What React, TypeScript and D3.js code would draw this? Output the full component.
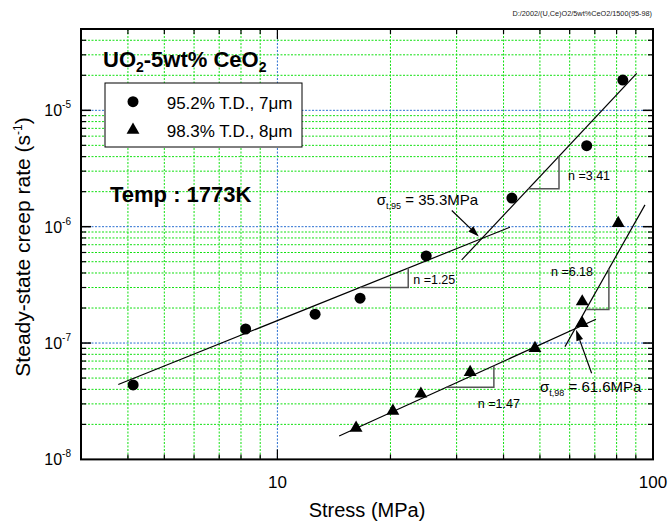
import React from 'react';
import * as d3 from 'd3';

const W = 669;
const H = 522;
const PL = 81, PR = 653, PT = 29, PB = 459.4;

// Data: 95.2% T.D., 7um (circles)
const stress95 = [4.13, 8.23, 12.6, 16.6, 24.9, 42.1, 66.6, 83.1];
const rate95 = [4.37e-8, 1.32e-7, 1.77e-7, 2.43e-7, 5.61e-7, 1.76e-6, 4.97e-6, 1.82e-5];
// Data: 98.3% T.D., 8um (triangles)
const stress98 = [16.2, 20.3, 24.1, 32.6, 48.5, 64.8, 64.8, 80.8];
const rate98 = [1.86e-8, 2.61e-8, 3.66e-8, 5.62e-8, 9.03e-8, 1.48e-7, 2.27e-7, 1.07e-6];

// Fit lines (end points)
const fitLabels = ['n =1.25', 'n =3.41', 'n =1.47', 'n =6.18'];
const fitStress = [[3.77, 41.6], [30.95, 90.5], [14.6, 70.5], [58.3, 95.2]];
const fitRate = [[4.4e-8, 9.9e-7], [5.18e-7, 2.08e-5], [1.59e-8, 1.6e-7], [9.32e-8, 1.54e-6]];
// slope-triangle stress ranges
const slopeStress = [[16.6, 22.3], [46.6, 56.2], [28.2, 37.7], [66.3, 76.3]];

const legendLabels = ['95.2% T.D., 7\u03bcm', '98.3% T.D., 8\u03bcm'];
const xTickLabels = [10, 100];
const yTickExps = [-8, -7, -6, -5];

const FONT = "'Liberation Sans', Arial, Helvetica, sans-serif";

export default function App() {
  const x = d3.scaleLog().domain([3, 100]).range([PL, PR]);
  const y = d3.scaleLog().domain([1e-8, 5e-5]).range([PB, PT]);

  const xMinor: number[] = [];
  for (let m = 4; m <= 9; m++) xMinor.push(m);
  for (let m = 2; m <= 9; m++) xMinor.push(m * 10);
  const xMajor = [10];
  const yMinor: number[] = [];
  for (let e = -8; e <= -5; e++) {
    for (let m = 2; m <= 9; m++) {
      const v = m * Math.pow(10, e);
      if (v < 5e-5 * 0.999) yMinor.push(v);
    }
  }
  const yMajor = [1e-7, 1e-6, 1e-5];

  const rateAt = (i: number, s: number) => {
    const [s0, s1] = fitStress[i];
    const [r0, r1] = fitRate[i];
    const n = Math.log(r1 / r0) / Math.log(s1 / s0);
    return r0 * Math.pow(s / s0, n);
  };
  const fitN = (i: number) => Math.log(fitRate[i][1] / fitRate[i][0]) / Math.log(fitStress[i][1] / fitStress[i][0]);
  const intersect = (i: number, j: number) => {
    const ni = fitN(i), nj = fitN(j);
    const ai = Math.log10(fitRate[i][0]) - ni * Math.log10(fitStress[i][0]);
    const aj = Math.log10(fitRate[j][0]) - nj * Math.log10(fitStress[j][0]);
    const ls = (aj - ai) / (ni - nj);
    const s = Math.pow(10, ls);
    return [s, rateAt(i, s)];
  };

  const line = d3.line<[number, number]>().x(d => x(d[0])).y(d => y(d[1]));

  const gridGreen = '#11e011';
  const gridBlue = '#2a6fd0';

  const arrow = (tx: number, ty: number, fx: number, fy: number) => {
    const dx = tx - fx, dy = ty - fy;
    const L = Math.sqrt(dx * dx + dy * dy);
    const ux = dx / L, uy = dy / L;
    const hl = 11, hw = 3.5;
    const bx = tx - ux * hl, by = ty - uy * hl;
    const p1 = [bx - uy * hw, by + ux * hw];
    const p2 = [bx + uy * hw, by - ux * hw];
    return (
      <g>
        <line x1={fx} y1={fy} x2={bx} y2={by} stroke="#000" strokeWidth={1.2} />
        <path d={`M${tx},${ty}L${p1[0]},${p1[1]}L${p2[0]},${p2[1]}Z`} fill="#000" />
      </g>
    );
  };

  const tri = d3.symbol().type(d3.symbolTriangle).size(72)() as string;

  const i95 = intersect(0, 1);
  const i98 = intersect(2, 3);
  const t95 = [x(i95[0]), y(i95[1])];
  const t98 = [x(i98[0]), y(i98[1])];

  const helpers = slopeStress.map((ss, i) => {
    const xa = x(ss[0]);
    const xb = x(ss[1]);
    const ya = y(rateAt(i, ss[0]));
    const yb = y(rateAt(i, ss[1]));
    return { xa, xb, ya, yb };
  });
  const labelPos = [
    (h: any) => [h.xb + 5, h.ya - 3],
    (h: any) => [h.xb + 9, h.ya - 9],
    (h: any) => [h.xb - 16, h.ya + 21],
    (h: any) => [h.xa - 35, h.yb + 7],
  ];

  return (
    <svg width={W} height={H} style={{ position: 'absolute', left: 0, top: 0, background: '#fff' }} fontFamily={FONT}>
      <rect x={0} y={0} width={W} height={H} fill="#fff" />
      {/* grid */}
      <g>
        {xMinor.map(v => (
          <line key={'xg' + v} x1={x(v)} x2={x(v)} y1={PT} y2={PB} stroke={gridGreen} strokeWidth={1} strokeDasharray="2,1.5" />
        ))}
        {xMajor.map(v => (
          <line key={'xG' + v} x1={x(v)} x2={x(v)} y1={PT} y2={PB} stroke={gridBlue} strokeWidth={1} strokeDasharray="2,1.5" />
        ))}
        {yMinor.map(v => (
          <line key={'yg' + v} x1={PL} x2={PR} y1={y(v)} y2={y(v)} stroke={gridGreen} strokeWidth={1} strokeDasharray="2,1.5" />
        ))}
        {yMajor.map(v => (
          <line key={'yG' + v} x1={PL} x2={PR} y1={y(v)} y2={y(v)} stroke={gridBlue} strokeWidth={1} strokeDasharray="2,1.5" />
        ))}
      </g>
      {/* fit lines */}
      {fitStress.map((fs, i) => (
        <path key={'fit' + i} d={line([[fs[0], fitRate[i][0]], [fs[1], fitRate[i][1]]]) as string} stroke="#000" strokeWidth={1.2} fill="none" />
      ))}
      {/* slope helpers */}
      {helpers.map((h, i) => (
        <g key={'h' + i}>
          <path d={`M${h.xa},${h.ya}L${h.xb},${h.ya}L${h.xb},${h.yb}`} stroke="#555" strokeWidth={1.5} fill="none" />
          <text x={labelPos[i](h)[0]} y={labelPos[i](h)[1]} fontSize={12.5} fill="#000">{fitLabels[i]}</text>
        </g>
      ))}
      {/* points */}
      {stress95.map((s, i) => (
        <circle key={'c' + i} cx={x(s)} cy={y(rate95[i])} r={5.5} fill="#000" />
      ))}
      {stress98.map((s, i) => (
        <path key={'t' + i} d={tri} transform={`translate(${x(s)},${y(rate98[i])})`} fill="#000" />
      ))}
      {/* annotations */}
      {arrow(t95[0] - 3, t95[1] - 2, t95[0] - 30, t95[1] - 28)}
      <text x={t95[0] - 105} y={t95[1] - 33} fontSize={15}>
        σ<tspan fontSize={9} dy={4}>t,95</tspan><tspan dy={-4} fontSize={15}> = 35.3MPa</tspan>
      </text>
      {arrow(t98[0] + 1, t98[1] + 1, t98[0] + 16.6, t98[1] + 44.5)}
      <text x={t98[0] - 35} y={t98[1] + 63} fontSize={15}>
        σ<tspan fontSize={9} dy={4}>t,98</tspan><tspan dy={-4} fontSize={15}> = 61.6MPa</tspan>
      </text>
      {/* title texts */}
      <text x={103} y={67} fontSize={22} fontWeight="bold">
        UO<tspan fontSize={14} dy={5}>2</tspan><tspan dy={-5}>-5wt% CeO</tspan><tspan fontSize={14} dy={5}>2</tspan>
      </text>
      <text x={110} y={202} fontSize={22} fontWeight="bold">Temp : 1773K</text>
      {/* legend */}
      <rect x={105} y={83} width={197} height={64} fill="#fff" stroke="#000" strokeWidth={1} />
      <circle cx={133} cy={101.7} r={5.5} fill="#000" />
      <path d={tri} transform="translate(133,130)" fill="#000" />
      <text x={166.7} y={108.5} fontSize={17}>{legendLabels[0]}</text>
      <text x={166.7} y={136.5} fontSize={17}>{legendLabels[1]}</text>
      {/* frame */}
      <rect x={PL} y={PT} width={PR - PL} height={PB - PT} fill="none" stroke="#000" strokeWidth={2} />
      {/* ticks */}
      {xMinor.map(v => (
        <g key={'xt' + v}>
          <line x1={x(v)} x2={x(v)} y1={PB} y2={PB - 5} stroke="#000" strokeWidth={1.2} />
          <line x1={x(v)} x2={x(v)} y1={PT} y2={PT + 5} stroke="#000" strokeWidth={1.2} />
        </g>
      ))}
      {xMajor.map(v => (
        <g key={'xT' + v}>
          <line x1={x(v)} x2={x(v)} y1={PB} y2={PB - 10} stroke="#000" strokeWidth={1.2} />
          <line x1={x(v)} x2={x(v)} y1={PT} y2={PT + 10} stroke="#000" strokeWidth={1.2} />
        </g>
      ))}
      {yMinor.map(v => (
        <g key={'yt' + v}>
          <line x1={PL} x2={PL + 5} y1={y(v)} y2={y(v)} stroke="#000" strokeWidth={1.2} />
          <line x1={PR} x2={PR - 5} y1={y(v)} y2={y(v)} stroke="#000" strokeWidth={1.2} />
        </g>
      ))}
      {yMajor.map(v => (
        <g key={'yT' + v}>
          <line x1={PL} x2={PL + 10} y1={y(v)} y2={y(v)} stroke="#000" strokeWidth={1.5} />
          <line x1={PR} x2={PR - 10} y1={y(v)} y2={y(v)} stroke="#000" strokeWidth={1.5} />
        </g>
      ))}
      {/* tick labels */}
      {xTickLabels.map(v => (
        <text key={'xl' + v} x={x(v)} y={488} fontSize={17} textAnchor="middle">{v}</text>
      ))}
      {yTickExps.map(e => (
        <text key={'yl' + e} x={71} y={y(Math.pow(10, e)) + 6} fontSize={16} textAnchor="end">
          10<tspan fontSize={10} dy={-8}>{e}</tspan>
        </text>
      ))}
      {/* axis titles */}
      <text x={(PL + PR) / 2} y={517} fontSize={20} textAnchor="middle">Stress (MPa)</text>
      <text transform={`translate(30,247) rotate(-90)`} fontSize={21} textAnchor="middle">
        Steady-state creep rate (s<tspan fontSize={12} dy={-8}>-1</tspan><tspan dy={8}>)</tspan>
      </text>
      {/* file note */}
      <text x={652} y={15.5} fontSize={7.3} textAnchor="end" fill="#222">D:/2002/(U,Ce)O2/5wt%CeO2/1500(95-98)</text>
    </svg>
  );
}
